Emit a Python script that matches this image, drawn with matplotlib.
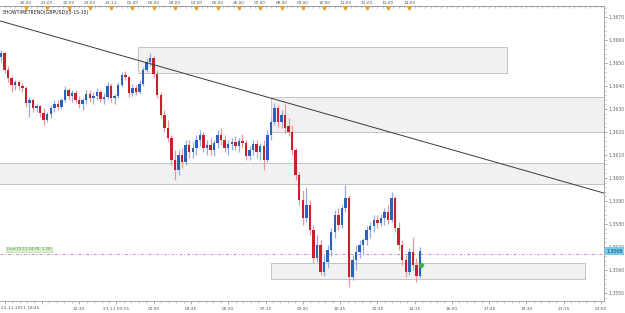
import pandas as pd
import matplotlib
matplotlib.use('Agg')
import matplotlib.pyplot as plt
import matplotlib.transforms as mtransforms
from matplotlib.patches import Rectangle
from matplotlib.ticker import MultipleLocator, FixedLocator, FormatStrFormatter

# ----------------
# DATA
# ----------------

chart_start = pd.Timestamp('2011-11-22 18:45')
first_bar = pd.Timestamp('2011-11-22 18:50')
bar_minutes = 10

opens = [
    1.36526, 1.36543, 1.36470, 1.36435, 1.36404, 1.36417, 1.36400, 1.36391, 1.36326, 1.36339,
    1.36304, 1.36313, 1.36282, 1.36252, 1.36278, 1.36304, 1.36322, 1.36309, 1.36339, 1.36383,
    1.36356, 1.36369, 1.36339, 1.36322, 1.36339, 1.36365, 1.36348, 1.36356, 1.36374, 1.36343,
    1.36352, 1.36400, 1.36348, 1.36356, 1.36404, 1.36448, 1.36439, 1.36369, 1.36391, 1.36374,
    1.36409, 1.36470, 1.36504, 1.36522, 1.36452, 1.36361, 1.36274, 1.36217, 1.36174, 1.36078,
    1.36035, 1.36100, 1.36069, 1.36143, 1.36113, 1.36130, 1.36165, 1.36187, 1.36130, 1.36143,
    1.36122, 1.36152, 1.36187, 1.36165, 1.36130, 1.36148, 1.36156, 1.36139, 1.36161, 1.36152,
    1.36095, 1.36122, 1.36148, 1.36113, 1.36139, 1.36078, 1.36187, 1.36243, 1.36304, 1.36243,
    1.36274, 1.36226, 1.36200, 1.36122, 1.36013, 1.35904, 1.35826, 1.35882, 1.35774, 1.35652,
    1.35708, 1.35591, 1.35634, 1.35687, 1.35765, 1.35839, 1.35795, 1.35869, 1.35913, 1.35569,
    1.35643, 1.35678, 1.35708, 1.35730, 1.35774, 1.35791, 1.35817, 1.35804, 1.35826, 1.35852,
    1.35817, 1.35913, 1.35782, 1.35708, 1.35643, 1.35591, 1.35678, 1.35621, 1.35573,
]
highs = [
    1.36557, 1.36548, 1.36487, 1.36443, 1.36426, 1.36426, 1.36413, 1.36400, 1.36352, 1.36348,
    1.36322, 1.36317, 1.36304, 1.36287, 1.36317, 1.36339, 1.36339, 1.36348, 1.36400, 1.36391,
    1.36383, 1.36383, 1.36356, 1.36348, 1.36383, 1.36383, 1.36374, 1.36391, 1.36383, 1.36369,
    1.36417, 1.36413, 1.36365, 1.36417, 1.36461, 1.36465, 1.36443, 1.36409, 1.36404, 1.36426,
    1.36483, 1.36522, 1.36543, 1.36530, 1.36470, 1.36374, 1.36296, 1.36252, 1.36187, 1.36122,
    1.36122, 1.36130, 1.36165, 1.36165, 1.36156, 1.36187, 1.36209, 1.36200, 1.36165, 1.36174,
    1.36165, 1.36209, 1.36217, 1.36187, 1.36165, 1.36174, 1.36182, 1.36174, 1.36191, 1.36165,
    1.36139, 1.36165, 1.36165, 1.36152, 1.36165, 1.36209, 1.36261, 1.36326, 1.36317, 1.36296,
    1.36326, 1.36261, 1.36230, 1.36130, 1.36026, 1.35948, 1.35961, 1.35904, 1.35795, 1.35752,
    1.35730, 1.35665, 1.35708, 1.35782, 1.35861, 1.35869, 1.35882, 1.35969, 1.35926, 1.35665,
    1.35708, 1.35730, 1.35739, 1.35791, 1.35808, 1.35839, 1.35839, 1.35843, 1.35869, 1.35882,
    1.35939, 1.35921, 1.35808, 1.35730, 1.35665, 1.35695, 1.35743, 1.35652, 1.35700,
]
lows = [
    1.36504, 1.36456, 1.36417, 1.36374, 1.36383, 1.36383, 1.36374, 1.36309, 1.36265, 1.36287,
    1.36287, 1.36265, 1.36230, 1.36243, 1.36261, 1.36287, 1.36296, 1.36300, 1.36330, 1.36339,
    1.36330, 1.36326, 1.36304, 1.36296, 1.36322, 1.36330, 1.36322, 1.36339, 1.36330, 1.36322,
    1.36343, 1.36330, 1.36322, 1.36348, 1.36396, 1.36426, 1.36352, 1.36356, 1.36361, 1.36365,
    1.36400, 1.36461, 1.36487, 1.36435, 1.36348, 1.36261, 1.36200, 1.36156, 1.36056, 1.35991,
    1.36013, 1.36043, 1.36056, 1.36087, 1.36087, 1.36100, 1.36139, 1.36113, 1.36100, 1.36100,
    1.36095, 1.36130, 1.36143, 1.36113, 1.36100, 1.36122, 1.36122, 1.36113, 1.36130, 1.36078,
    1.36078, 1.36100, 1.36087, 1.36078, 1.36035, 1.36069, 1.36165, 1.36230, 1.36217, 1.36217,
    1.36195, 1.36182, 1.36100, 1.35991, 1.35882, 1.35795, 1.35808, 1.35752, 1.35630, 1.35634,
    1.35578, 1.35573, 1.35608, 1.35660, 1.35739, 1.35774, 1.35782, 1.35852, 1.35526, 1.35556,
    1.35600, 1.35652, 1.35665, 1.35708, 1.35739, 1.35765, 1.35782, 1.35791, 1.35795, 1.35800,
    1.35808, 1.35765, 1.35687, 1.35621, 1.35569, 1.35578, 1.35600, 1.35547, 1.35565,
]
closes = [
    1.36543, 1.36470, 1.36435, 1.36404, 1.36417, 1.36400, 1.36391, 1.36326, 1.36339, 1.36304,
    1.36313, 1.36282, 1.36252, 1.36278, 1.36304, 1.36322, 1.36309, 1.36339, 1.36383, 1.36356,
    1.36369, 1.36339, 1.36322, 1.36339, 1.36365, 1.36348, 1.36356, 1.36374, 1.36343, 1.36352,
    1.36400, 1.36348, 1.36356, 1.36404, 1.36448, 1.36439, 1.36369, 1.36391, 1.36374, 1.36409,
    1.36470, 1.36504, 1.36522, 1.36452, 1.36361, 1.36274, 1.36217, 1.36174, 1.36078, 1.36035,
    1.36100, 1.36069, 1.36143, 1.36113, 1.36130, 1.36165, 1.36187, 1.36130, 1.36143, 1.36122,
    1.36152, 1.36187, 1.36165, 1.36130, 1.36148, 1.36156, 1.36139, 1.36161, 1.36152, 1.36095,
    1.36122, 1.36148, 1.36113, 1.36139, 1.36078, 1.36187, 1.36243, 1.36304, 1.36243, 1.36274,
    1.36217, 1.36200, 1.36122, 1.36013, 1.35904, 1.35826, 1.35882, 1.35774, 1.35652, 1.35708,
    1.35591, 1.35634, 1.35687, 1.35765, 1.35839, 1.35795, 1.35869, 1.35913, 1.35569, 1.35643,
    1.35678, 1.35708, 1.35730, 1.35774, 1.35791, 1.35817, 1.35804, 1.35826, 1.35852, 1.35817,
    1.35913, 1.35782, 1.35708, 1.35643, 1.35591, 1.35678, 1.35621, 1.35573, 1.35682,
]

# support / resistance zones
zone_starts = ['2011-11-23 01:15', '2011-11-23 07:30', '2011-11-22 18:00', '2011-11-23 07:30']
zone_ends = ['2011-11-23 18:35', '2011-11-24 00:00', '2011-11-24 00:00', '2011-11-23 22:15']
zone_tops = [1.36570, 1.36352, 1.36065, 1.35630]
zone_bottoms = [1.36456, 1.36200, 1.35974, 1.35560]

trend_times = ['2011-11-22 18:45', '2011-11-23 23:00']
trend_prices = [1.36684, 1.35938]

hline_price = 1.35670
hline_label = 'Line(23-11 14:35, 1.35)'
last_price_label = '1.3568'
marker_price = 1.35621

title = 'SHOWTIMETREND(GBPUSD)(5-15-15)'

top_labels = ['20:00', '21:00', '22:00', '23:00', '23-11', '01:00', '02:00', '03:00', '04:00',
              '05:00', '06:00', '07:00', '08:00', '09:00', '10:00', '11:00', '12:00', '13:00',
              '14:00']
top_first = '2011-11-22 20:00'

bottom_first_label = '22-11-2011 18:45'
bottom_labels = ['', '', '22:30', '23-11 00:15', '02:00', '03:45', '05:30', '07:15', '09:00',
                 '10:45', '12:30', '14:15', '16:00', '17:45', '19:30', '21:15', '23:00']
bottom_first = '2011-11-22 19:00'
bottom_step_minutes = 105


def hours(t):
    return (pd.Timestamp(t) - chart_start) / pd.Timedelta(hours=1)


# ----------------
# PLOT
# ----------------

W, H = 625, 313
fig = plt.figure(figsize=(W / 100, H / 100), dpi=100)
ax = fig.add_axes([0, 12 / H, 604 / W, 295 / H])

ax.set_xlim(0.033, 28.39)
ax.set_ylim(1.35465, 1.36748)

bar_x = [(first_bar - chart_start) / pd.Timedelta(hours=1) + i * bar_minutes / 60
         for i in range(len(closes))]
up_body, dn_body = '#2a62bd', '#c9202c'
up_wick, dn_wick = '#93aedd', '#e89aa0'
for x, o, h, l, c in zip(bar_x, opens, highs, lows, closes):
    up = c >= o
    ax.vlines(x, l, h, color=up_wick if up else dn_wick, lw=0.9, zorder=3)
    body = max(abs(c - o), 0.000015)
    ax.bar(x, body, bottom=min(o, c), width=0.115,
           color=up_body if up else dn_body, linewidth=0, zorder=4)

for s, e, top, bot in zip(zone_starts, zone_ends, zone_tops, zone_bottoms):
    x0, x1 = hours(s), hours(e)
    ax.add_patch(Rectangle((x0, bot), x1 - x0, top - bot, facecolor='#f1f1f1',
                           edgecolor='#c4c4c4', lw=0.7, zorder=1))

ax.axline((hours(trend_times[0]), trend_prices[0]), (hours(trend_times[1]), trend_prices[1]),
          color='#3a3a3a', lw=0.7, zorder=5)

ax.axhline(hline_price, color='#c68ac6', lw=0.7, ls=(0, (3, 2, 1, 2)), zorder=2)
ax.text(7 / 604, hline_price + 0.00019, hline_label,
        transform=mtransforms.blended_transform_factory(ax.transAxes, ax.transData),
        fontsize=2.7, color='#6a8a5a', va='center', ha='left',
        bbox=dict(boxstyle='square,pad=0.25', facecolor='#d9efcc', edgecolor='#b9dca6', lw=0.4))
ax.plot(bar_x[-1] + 0.05, marker_price, marker='P', ms=3, color='#3cb043', zorder=6)

# right price axis
ax.spines['left'].set_visible(False)
for side in ('top', 'right', 'bottom'):
    ax.spines[side].set_color('#9a9a9a')
    ax.spines[side].set_linewidth(0.6)
ax.yaxis.tick_right()
ax.yaxis.set_major_locator(MultipleLocator(0.001))
ax.yaxis.set_minor_locator(MultipleLocator(0.0002))
ax.yaxis.set_major_formatter(FormatStrFormatter('%.4f'))
ax.tick_params(axis='y', which='major', labelsize=3.3, labelcolor='#6a6a6a', color='#8a8a8a',
               length=2.5, width=0.5, pad=1)
ax.tick_params(axis='y', which='minor', color='#9a9a9a', length=1.2, width=0.4)
ax.text(1.004, closes[-1], last_price_label, transform=mtransforms.blended_transform_factory(
    ax.transAxes, ax.transData), fontsize=3.3, color='#1a3a5a', va='center', ha='left',
    zorder=10, bbox=dict(boxstyle='square,pad=0.25', facecolor='#74cdef', edgecolor='none'))

# bottom time axis
bottom_ticks = [hours(bottom_first) + k * bottom_step_minutes / 60 for k in range(len(bottom_labels))]
ax.set_xticks(bottom_ticks)
ax.set_xticklabels(bottom_labels)
minor_bottom = [hours(bottom_first) + k * 21 / 60 for k in range(81)]
ax.xaxis.set_minor_locator(FixedLocator(minor_bottom))
ax.tick_params(axis='x', which='major', labelsize=3.1, labelcolor='#5a5a5a', color='#8a8a8a',
               length=2.5, width=0.5, pad=1.5)
ax.tick_params(axis='x', which='minor', color='#9a9a9a', length=1.2, width=0.4)
ax.text(0.002, -0.016, bottom_first_label, transform=ax.transAxes, fontsize=3.1,
        color='#5a5a5a', ha='left', va='top')

# top time axis
top_ticks = [hours(top_first) + k for k in range(len(top_labels))]
sec = ax.secondary_xaxis('top')
sec.set_xticks(top_ticks)
sec.set_xticklabels(top_labels)
sec.xaxis.set_minor_locator(FixedLocator([k * 0.25 for k in range(114)]))
sec.tick_params(axis='x', which='major', direction='in', labelsize=3.1, labelcolor='#5a5a5a',
                color='#8a8a8a', length=2.5, width=0.5, pad=0.6)
sec.tick_params(axis='x', which='minor', direction='in', color='#9a9a9a', length=1.3, width=0.4)
sec.spines['top'].set_color('#9a9a9a')
sec.spines['top'].set_linewidth(0.6)
ax.plot(top_ticks, [0.992] * len(top_ticks), ls='', marker='v', ms=2.3, color='#f0a020',
        transform=mtransforms.blended_transform_factory(ax.transData, ax.transAxes),
        clip_on=False, zorder=6)

fig.text(3 / W, 1 - 12.5 / H, title, fontsize=3.3, color='#202020', ha='left', va='center')

fig.savefig('out.png', dpi=100)
